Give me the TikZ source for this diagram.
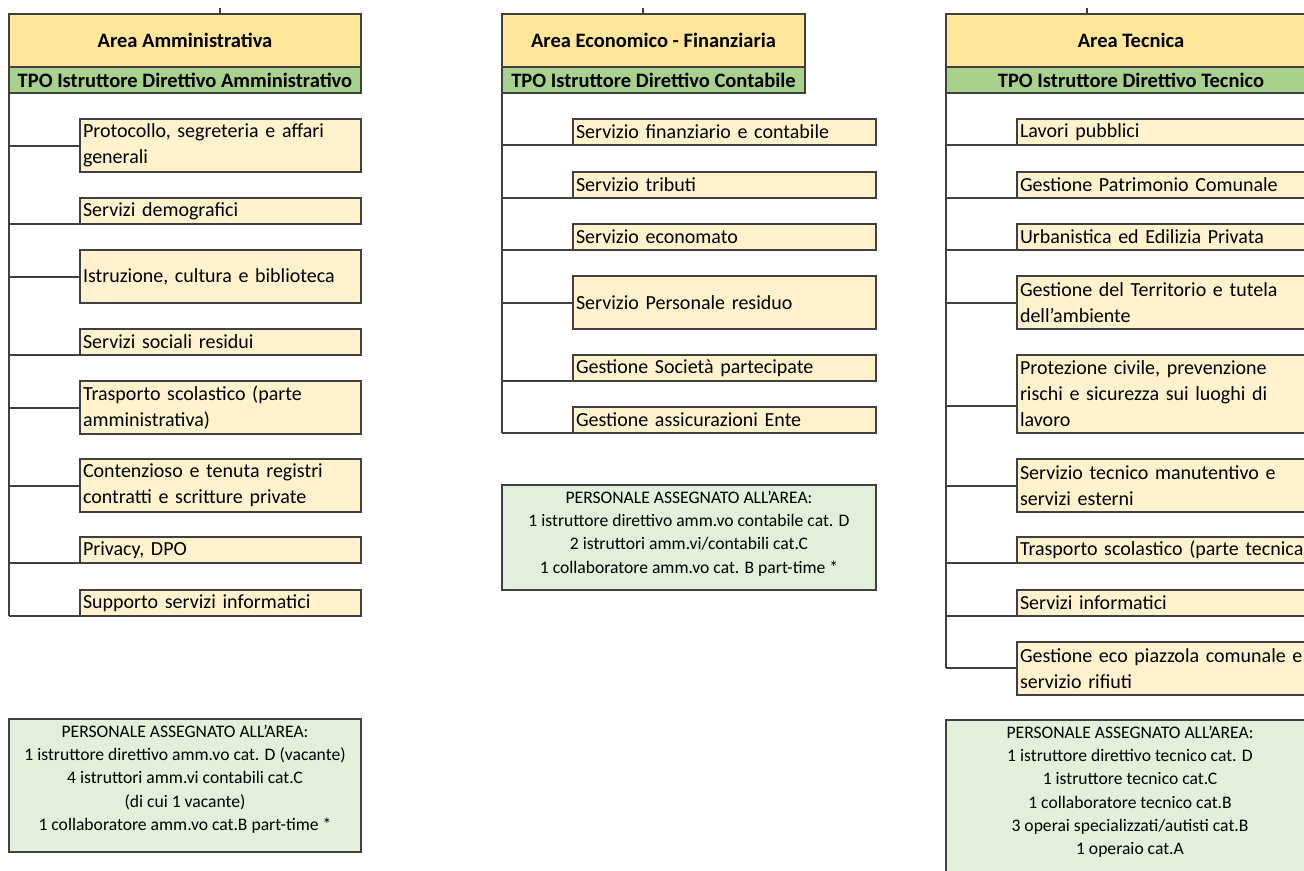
\documentclass[tikz,border=0pt]{standalone}
\usepackage{fontspec}
\setmainfont{Carlito}
\usetikzlibrary{positioning}
\definecolor{hdryellow}{HTML}{FFE699}
\definecolor{itemcream}{HTML}{FFF2CC}
\definecolor{tpogreen}{HTML}{A9D18E}
\definecolor{staffgreen}{HTML}{E2EFDA}
\definecolor{edgegray}{HTML}{404040}
\tikzset{
    base/.style={rectangle, draw=edgegray, line width=1pt, outer sep=0pt, inner ysep=0pt},
    areabox/.style={base, fill=hdryellow, anchor=north west, minimum height=26.5pt, inner xsep=1pt,
        font=\fontsize{10.25}{13}\selectfont\bfseries},
    tpobox/.style={base, fill=tpogreen, minimum height=13pt, inner xsep=1pt,
        font=\fontsize{10.25}{13}\selectfont\bfseries},
    itembox/.style={base, fill=itemcream, anchor=north west, align=left, inner xsep=1.5pt,
        font=\fontsize{10}{13}\selectfont},
    staffbox/.style={base, fill=staffgreen, anchor=north west, inner xsep=0pt, inner ysep=3pt,
        font=\fontsize{8.8}{11.6}\selectfont},
    link/.style={draw=edgegray, line width=1pt},
}
\newcommand{\toptext}[3]{\parbox[c][#2][t]{#1}{\centering #3}}

\begin{document}
\begin{tikzpicture}[x=0.5pt, y=-0.5pt]
    \useasboundingbox (0,0) rectangle (1304,871);
    \clip (0,0) rectangle (1304,871);

    % area headers
    \node[areabox, minimum width=176pt] (areaA) at (9,14) {Area Amministrativa};
    \node[areabox, minimum width=151.5pt] (areaB) at (502,14) {Area Economico - Finanziaria};
    \node[areabox, minimum width=185pt] (areaC) at (946,14) {Area Tecnica};
    \node[tpobox, minimum width=176pt, below=0pt of areaA] (tpoA) {TPO Istruttore Direttivo Amministrativo};
    \node[tpobox, minimum width=151.5pt, below=0pt of areaB] (tpoB) {TPO Istruttore Direttivo Contabile};
    \node[tpobox, minimum width=185pt, below=0pt of areaC] (tpoC) {TPO Istruttore Direttivo Tecnico};

    % links to the level above
    \coordinate (upA) at (220,8);
    \coordinate (upB) at (643,8);
    \coordinate (upC) at (1087,8);
    \foreach \col in {A,B,C}
        \draw[link] (up\col) -- (up\col |- area\col.north);

    % Area Amministrativa
    \foreach \n/\yy/\hgt/\sh/\txt in {
        a1/119/26.5/13/{Protocollo, segreteria e affari\\generali},
        a2/198/13/0/{Servizi demografici},
        a3/250/26.5/13/{Istruzione, cultura e biblioteca},
        a4/329/13/0/{Servizi sociali residui},
        a5/381/26.5/13/{Trasporto scolastico (parte\\amministrativa)},
        a6/459/26.5/13/{Contenzioso e tenuta registri\\contratti e scritture private},
        a7/537/13/0/{Privacy, DPO},
        a8/590/13/0/{Supporto servizi informatici}} {
        \node[itembox, text width=137.5pt, minimum height=\hgt pt] (\n) at (80,\yy) {\txt};
        \coordinate (\n-in) at ([yshift=\sh pt]\n.south west);
        \draw[link] (tpoA.south west |- \n-in) -- (\n-in);
    }
    \draw[link] (tpoA.south west) -- (tpoA.south west |- a8-in);

    % Area Economico - Finanziaria
    \foreach \n/\yy/\hgt/\sh/\txt in {
        b1/119/13/0/{Servizio finanziario e contabile},
        b2/172/13/0/{Servizio tributi},
        b3/224/13/0/{Servizio economato},
        b4/276/26.5/13/{Servizio Personale residuo},
        b5/355/13/0/{Gestione Società partecipate},
        b6/407/13/0/{Gestione assicurazioni Ente}} {
        \node[itembox, text width=148.5pt, minimum height=\hgt pt] (\n) at (573,\yy) {\txt};
        \coordinate (\n-in) at ([yshift=\sh pt]\n.south west);
        \draw[link] (tpoB.south west |- \n-in) -- (\n-in);
    }
    \draw[link] (tpoB.south west) -- (tpoB.south west |- b6-in);

    % Area Tecnica
    \foreach \n/\yy/\hgt/\sh/\txt in {
        c1/119/13/0/{Lavori pubblici},
        c2/172/13/0/{Gestione Patrimonio Comunale},
        c3/224/13/0/{Urbanistica ed Edilizia Privata},
        c4/276/26.5/13/{Gestione del Territorio e tutela\\dell'ambiente},
        c5/355/39/13.5/{Protezione civile, prevenzione\\rischi e sicurezza sui luoghi di\\lavoro},
        c6/459/26.5/13/{Servizio tecnico manutentivo e\\servizi esterni},
        c7/537/13/0/{Trasporto scolastico (parte tecnica)},
        c8/590/13/0/{Servizi informatici},
        c9/642/26.5/13.5/{Gestione eco piazzola comunale e\\servizio rifiuti}} {
        \node[itembox, text width=158.5pt, minimum height=\hgt pt] (\n) at (1017,\yy) {\txt};
        \coordinate (\n-in) at ([yshift=\sh pt]\n.south west);
        \draw[link] (tpoC.south west |- \n-in) -- (\n-in);
    }
    \draw[link] (tpoC.south west) -- (tpoC.south west |- c9-in);

    % personale
    \node[staffbox] (staffA) at (9,719) {\toptext{176pt}{60.5pt}{PERSONALE ASSEGNATO ALL’AREA:\\
        1 istruttore direttivo amm.vo cat. D (vacante)\\4 istruttori amm.vi contabili cat.C\\
        (di cui 1 vacante)\\1 collaboratore amm.vo cat.B part-time *}};
    \node[staffbox] (staffB) at (502,485) {\toptext{187pt}{46.5pt}{PERSONALE ASSEGNATO ALL’AREA:\\
        1 istruttore direttivo amm.vo contabile cat. D\\2 istruttori amm.vi/contabili cat.C\\
        1 collaboratore amm.vo cat. B part-time *}};
    \node[staffbox] (staffC) at (946,720) {\toptext{184pt}{74pt}{PERSONALE ASSEGNATO ALL’AREA:\\
        1 istruttore direttivo tecnico cat. D\\1 istruttore tecnico cat.C\\
        1 collaboratore tecnico cat.B\\3 operai specializzati/autisti cat.B\\1 operaio cat.A}};
\end{tikzpicture}
\end{document}
